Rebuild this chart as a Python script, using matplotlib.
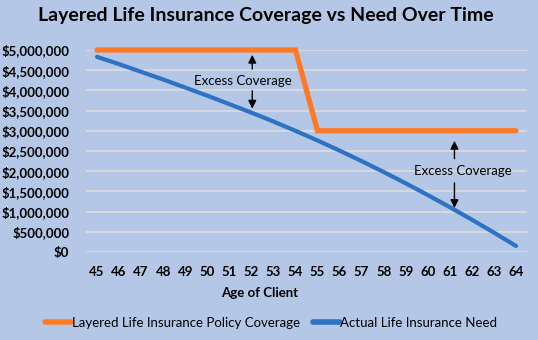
import numpy as np
import matplotlib
matplotlib.use("Agg")
import matplotlib.pyplot as plt

plt.rcParams['font.family'] = ['Lato', 'DejaVu Sans']

# data
ages = list(range(45, 65))
coverage = [5000000]*10 + [3000000]*10
need = [4830000, 4650000, 4460000, 4270000, 4070000, 3870000, 3660000,
        3450000, 3230000, 3000000, 2760000, 2510000, 2250000, 1980000,
        1700000, 1410000, 1110000, 800000, 480000, 150000]
ytick_vals = list(range(0, 5000001, 500000))

bg = "#B4C7E7"
orange = "#FF7A26"
blue = "#2E72C3"
grid = "#DCDCDC"

fig = plt.figure(figsize=(5.38, 3.40), dpi=100, facecolor=bg)
ax = fig.add_axes([86/538, 1-252/340, 441/538, 202/340])
ax.set_facecolor(bg)

x = np.arange(len(ages))
for v in ytick_vals:
    ax.axhline(v, color=grid, lw=1.2, zorder=1)

ax.plot(x, coverage, color=orange, lw=3.8, solid_capstyle='round',
        solid_joinstyle='miter', clip_on=False, zorder=3,
        label="Layered Life Insurance Policy Coverage")
ax.plot(x, need, color=blue, lw=3.0, solid_capstyle='round',
        clip_on=False, zorder=4, label="Actual Life Insurance Need")

ax.set_xlim(-0.5, len(ages)-0.5)
ax.set_ylim(0, 5000000)
ax.set_xticks(x)
ax.set_xticklabels([str(a) for a in ages], fontsize=9.5, fontweight='bold')
ax.set_yticks(ytick_vals)
ax.set_yticklabels(["${:,}".format(v) for v in ytick_vals], fontsize=9.5, fontweight='bold')
ax.tick_params(length=0, pad=12)
ax.tick_params(axis='x', pad=10)
for s in ax.spines.values():
    s.set_visible(False)

# annotations
def excess(xa, xt, y_top, y_tail1, y_text, y_tail2, y_bot):
    ax.annotate("", xy=(xa, y_top), xytext=(xa, y_tail1),
                arrowprops=dict(arrowstyle='-|>', color='black', lw=1, mutation_scale=12), zorder=5)
    ax.annotate("", xy=(xa, y_bot), xytext=(xa, y_tail2),
                arrowprops=dict(arrowstyle='-|>', color='black', lw=1, mutation_scale=12), zorder=5)
    ax.text(xt, y_text, "Excess Coverage", ha='center', va='center', fontsize=9.5, zorder=5)

excess(7.04, 6.6, 4950000, 4460000, 4240000, 4060000, 3480000)
excess(16.21, 16.58, 2820000, 2240000, 2010000, 1780000, 1020000)

fig.text(266/538, 1-15/340, "Layered Life Insurance Coverage vs Need Over Time",
         ha='center', va='center', fontsize=14, fontweight='bold')
fig.text(260/538, 1-293/340, "Age of Client", ha='center', va='center',
         fontsize=9.5, fontweight='bold')

leg = fig.legend(loc='center', bbox_to_anchor=(271/538, 1-323/340), ncol=2,
                 frameon=False, fontsize=9.5, handlelength=2.0, handletextpad=0.05,
                 columnspacing=1.0)
for line in leg.get_lines():
    line.set_linewidth(4)

fig.savefig("out.png", dpi=100, facecolor=bg)
